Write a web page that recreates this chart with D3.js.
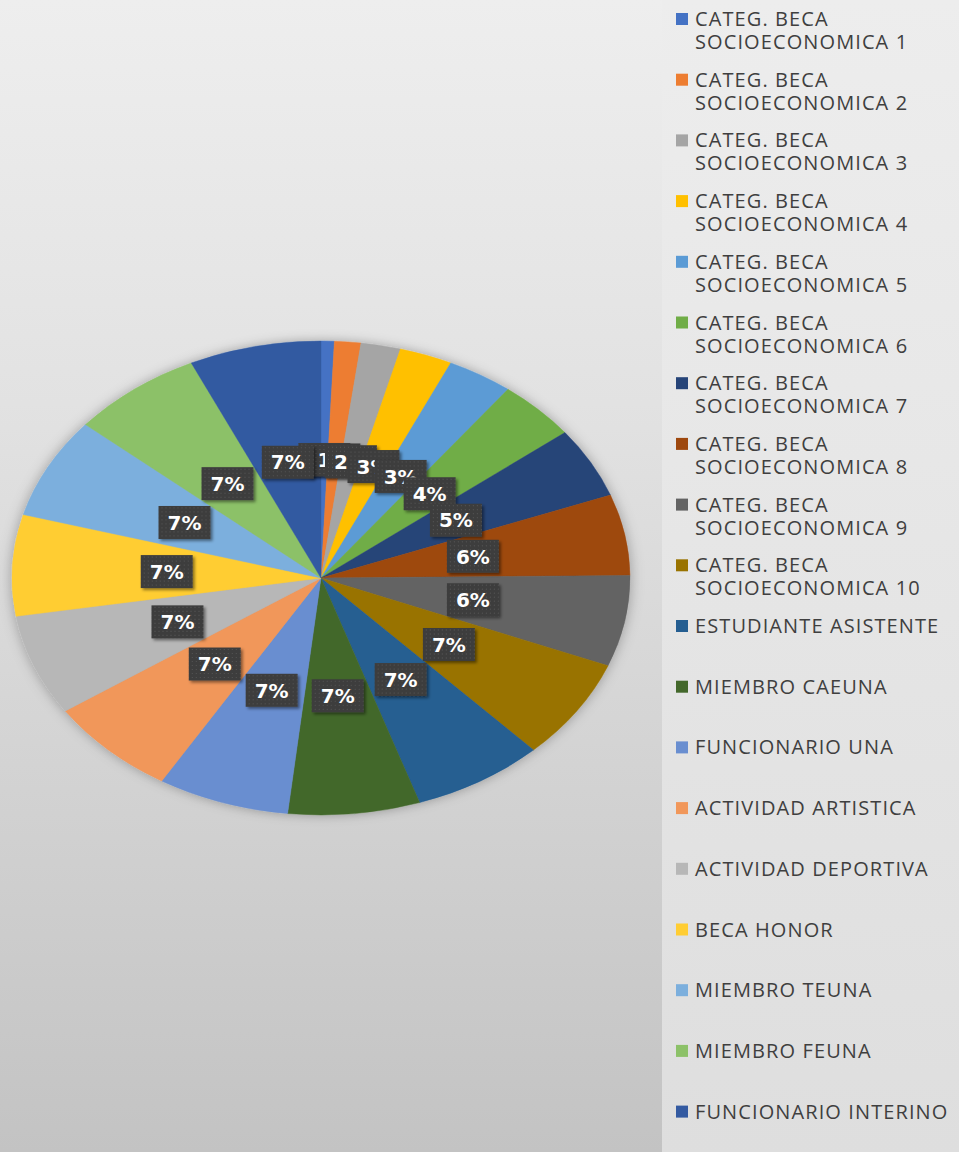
<!DOCTYPE html>
<html>
<head>
<meta charset="utf-8">
<script src="https://cdn.jsdelivr.net/npm/d3@7/dist/d3.min.js"></script>
<style>
  html, body { margin: 0; padding: 0; background: #e6e6e6; }
  svg { display: block; }
</style>
</head>
<body>
<svg id="chart" width="959" height="1152"></svg>
<script>
// ---- data ----
const categories = [
  "CATEG. BECA SOCIOECONOMICA 1",
  "CATEG. BECA SOCIOECONOMICA 2",
  "CATEG. BECA SOCIOECONOMICA 3",
  "CATEG. BECA SOCIOECONOMICA 4",
  "CATEG. BECA SOCIOECONOMICA 5",
  "CATEG. BECA SOCIOECONOMICA 6",
  "CATEG. BECA SOCIOECONOMICA 7",
  "CATEG. BECA SOCIOECONOMICA 8",
  "CATEG. BECA SOCIOECONOMICA 9",
  "CATEG. BECA SOCIOECONOMICA 10",
  "ESTUDIANTE ASISTENTE",
  "MIEMBRO CAEUNA",
  "FUNCIONARIO UNA",
  "ACTIVIDAD ARTISTICA",
  "ACTIVIDAD DEPORTIVA",
  "BECA HONOR",
  "MIEMBRO TEUNA",
  "MIEMBRO FEUNA",
  "FUNCIONARIO INTERINO"
];
const legendLines = [
  ["CATEG. BECA", "SOCIOECONOMICA 1"],
  ["CATEG. BECA", "SOCIOECONOMICA 2"],
  ["CATEG. BECA", "SOCIOECONOMICA 3"],
  ["CATEG. BECA", "SOCIOECONOMICA 4"],
  ["CATEG. BECA", "SOCIOECONOMICA 5"],
  ["CATEG. BECA", "SOCIOECONOMICA 6"],
  ["CATEG. BECA", "SOCIOECONOMICA 7"],
  ["CATEG. BECA", "SOCIOECONOMICA 8"],
  ["CATEG. BECA", "SOCIOECONOMICA 9"],
  ["CATEG. BECA", "SOCIOECONOMICA 10"],
  ["ESTUDIANTE ASISTENTE"],
  ["MIEMBRO CAEUNA"],
  ["FUNCIONARIO UNA"],
  ["ACTIVIDAD ARTISTICA"],
  ["ACTIVIDAD DEPORTIVA"],
  ["BECA HONOR"],
  ["MIEMBRO TEUNA"],
  ["MIEMBRO FEUNA"],
  ["FUNCIONARIO INTERINO"]
];
const values = [1, 2, 3, 4, 5, 6, 7, 8, 9, 10, 10, 10, 10, 10, 10, 10, 10, 10, 10];
const colors = [
  "#4472C4", "#ED7D31", "#A5A5A5", "#FFC000", "#5B9BD5", "#70AD47",
  "#264478", "#9E480E", "#636363", "#997300", "#255E91", "#43682B",
  "#698ED0", "#F1975A", "#B7B7B7", "#FFCD33", "#7CAFDD", "#8CC168", "#335AA1"
];

// ---- layout ----
const W = 959, H = 1152;
const cx = 321, cy = 578, rx = 309, ry = 237;
const svg = d3.select("#chart");
const defs = svg.append("defs");

const bg = defs.append("linearGradient").attr("id", "bg").attr("x1", 0).attr("y1", 0).attr("x2", 0).attr("y2", 1);
bg.append("stop").attr("offset", "0%").attr("stop-color", "#eeeeee");
bg.append("stop").attr("offset", "35%").attr("stop-color", "#e2e2e2");
bg.append("stop").attr("offset", "100%").attr("stop-color", "#c3c3c3");

const panel = defs.append("linearGradient").attr("id", "panel").attr("x1", 0).attr("y1", 0).attr("x2", 0).attr("y2", 1);
panel.append("stop").attr("offset", "0%").attr("stop-color", "#ededed");
panel.append("stop").attr("offset", "100%").attr("stop-color", "#dedede");

const pieShadow = defs.append("filter").attr("id", "pieShadow")
  .attr("x", "-20%").attr("y", "-20%").attr("width", "140%").attr("height", "140%");
pieShadow.append("feDropShadow").attr("dx", 0).attr("dy", 0).attr("stdDeviation", 7)
  .attr("flood-color", "#000").attr("flood-opacity", 0.3);

const boxShadow = defs.append("filter").attr("id", "boxShadow")
  .attr("x", "-30%").attr("y", "-30%").attr("width", "160%").attr("height", "160%");
boxShadow.append("feDropShadow").attr("dx", 2).attr("dy", 2).attr("stdDeviation", 1.8)
  .attr("flood-color", "#000").attr("flood-opacity", 0.45);

const pat = defs.append("pattern").attr("id", "dots").attr("patternUnits", "userSpaceOnUse")
  .attr("width", 4).attr("height", 4);
pat.append("rect").attr("width", 4).attr("height", 4).attr("fill", "#3d3d3d");
pat.append("rect").attr("x", 1).attr("y", 1).attr("width", 1).attr("height", 1).attr("fill", "#575757");

svg.append("rect").attr("width", W).attr("height", H).attr("fill", "url(#bg)");

// legend panel
svg.append("rect").attr("x", 662).attr("y", 0).attr("width", W - 662).attr("height", H)
  .attr("fill", "url(#panel)");

// ---- pie ----
const pie = d3.pie().sort(null).value(d => d)(values);
const arc = d3.arc().innerRadius(0).outerRadius(rx);
const pieG = svg.append("g")
  .attr("transform", `translate(${cx},${cy}) scale(1,${ry / rx})`)
  .attr("filter", "url(#pieShadow)");
pieG.selectAll("path").data(pie).join("path")
  .attr("d", arc)
  .attr("fill", (d, i) => colors[i])
  .attr("stroke", (d, i) => colors[i])
  .attr("stroke-width", 0.5);

// ---- labels ----
const total = d3.sum(values);
const fmt = v => Math.round(100 * v / total) + "%";
const labelG = svg.append("g");
pie.forEach((d, i) => {
  const a = (d.startAngle + d.endAngle) / 2;
  const lx = cx + 0.5 * rx * Math.sin(a);
  const ly = cy - 0.5 * ry * Math.cos(a);
  const g = labelG.append("g").attr("transform", `translate(${lx},${ly})`);
  const txt = fmt(d.value);
  const t = g.append("text")
    .attr("text-anchor", "middle")
    .attr("dy", "0.36em")
    .attr("font-family", "DejaVu Sans, sans-serif")
    .attr("font-weight", "bold")
    .attr("font-size", 20)
    .attr("fill", "#ffffff")
    .text(txt);
  const bw = t.node().getComputedTextLength() + 18;
  const bh = 33;
  g.insert("rect", "text")
    .attr("x", -bw / 2).attr("y", -bh / 2)
    .attr("width", bw).attr("height", bh)
    .attr("fill", "url(#dots)")
    .attr("filter", "url(#boxShadow)");
});

// ---- legend ----
const legY0 = 26, legPitch = 60.7, lineH = 23;
const leg = svg.append("g");
legendLines.forEach((lines, i) => {
  const by = legY0 + i * legPitch;
  leg.append("rect")
    .attr("x", 676).attr("y", by - 13)
    .attr("width", 12).attr("height", 12)
    .attr("fill", colors[i]);
  lines.forEach((ln, j) => {
    leg.append("text")
      .attr("x", 695).attr("y", by + j * lineH)
      .attr("font-family", "Open Sans, Noto Sans, sans-serif")
      .attr("font-size", 20)
      .attr("letter-spacing", 1.1)
      .attr("fill", "#3f3f3f")
      .text(ln);
  });
});
</script>
</body>
</html>
